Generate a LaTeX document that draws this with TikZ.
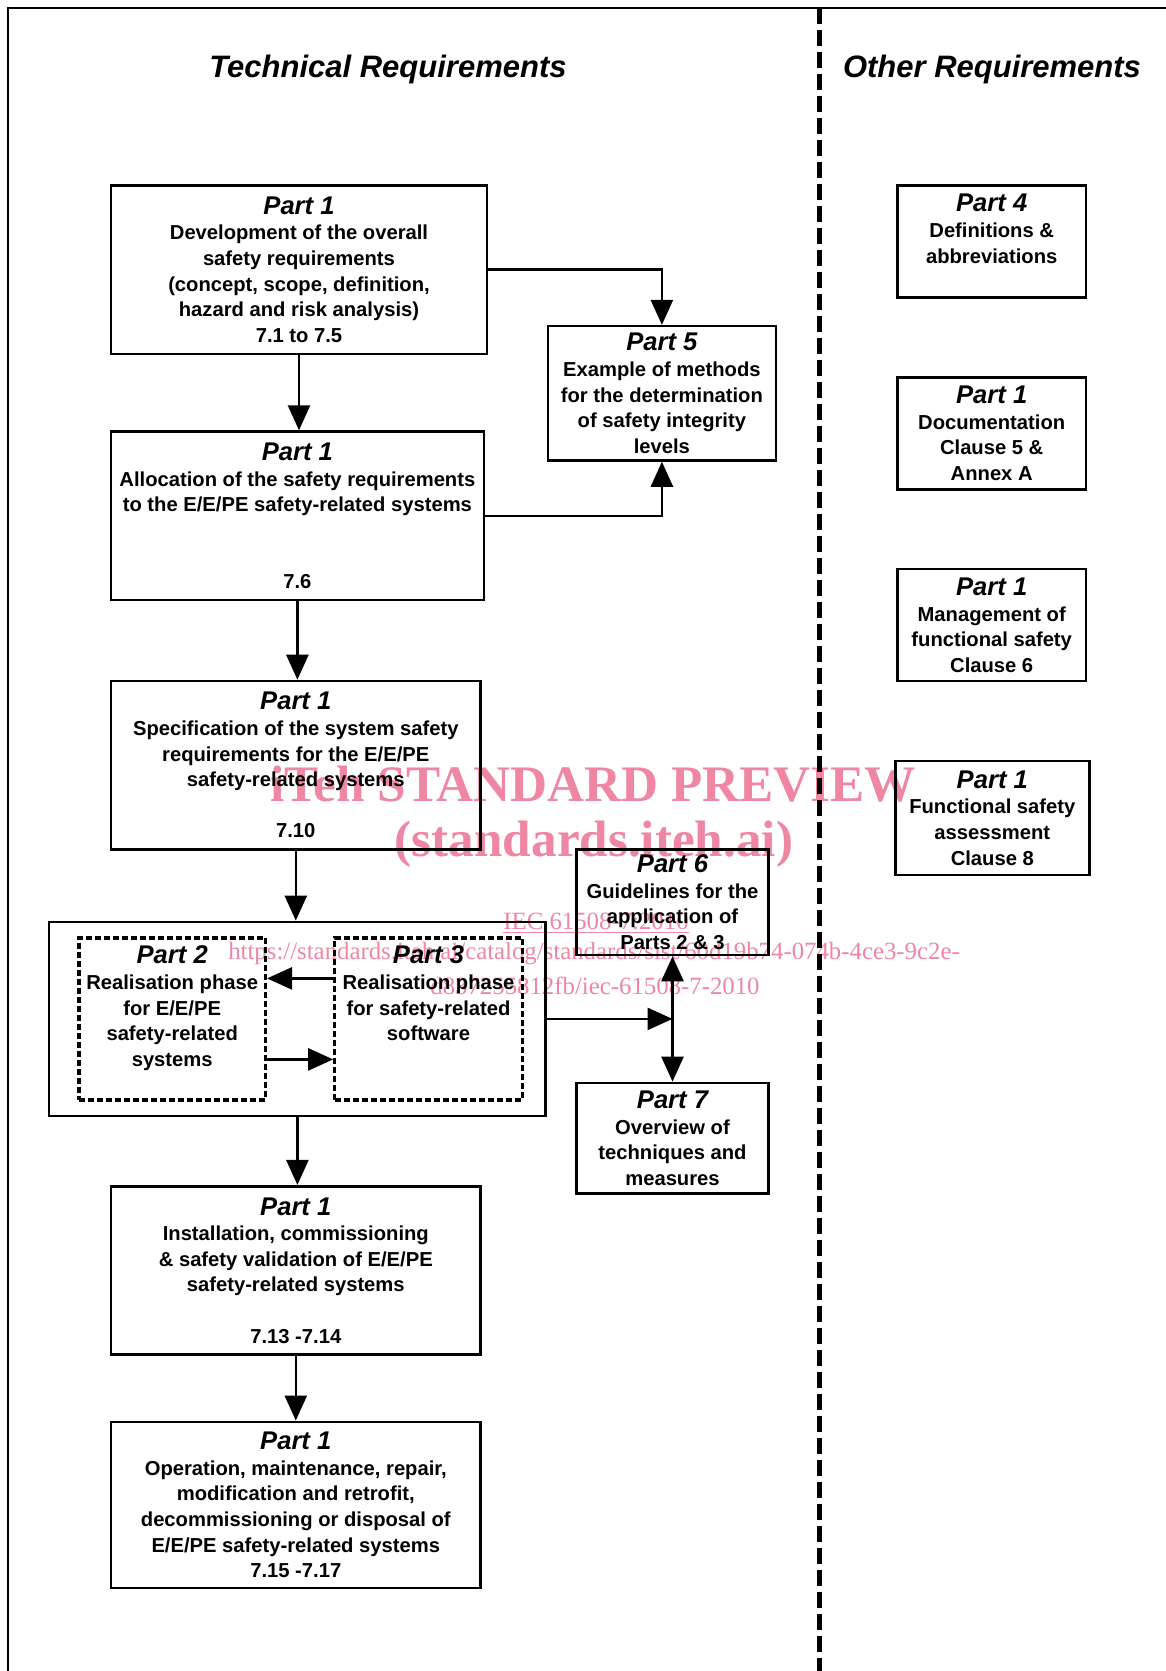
\documentclass[tikz,border=0pt]{standalone}
\usepackage{fontspec}
\setmainfont{Liberation Sans}
\newfontfamily\wmfont{Liberation Serif}
\usetikzlibrary{arrows.meta}
\definecolor{wmpink}{RGB}{238,134,164}
\newcommand{\bodyfont}{\fontsize{10.1}{12.8}\selectfont\bfseries}
\newcommand{\partfont}{\fontsize{12.8}{12.8}\selectfont\bfseries\itshape}

\begin{document}
\begin{tikzpicture}[x=0.5pt, y=-0.5pt, >={Triangle[length=12.5pt,width=11pt]},
    partbox/.style={rectangle, draw, line width=1.3pt, align=center, font=\bodyfont, inner sep=0pt},
    subbox/.style={rectangle, draw, line width=1.6pt, dash pattern=on 3pt off 1.5pt, align=center, font=\bodyfont, inner sep=0pt},
    boxsize/.style 2 args={minimum width=#1*0.5pt, minimum height=#2*0.5pt},
    flow/.style={line width=1.3pt},
    heading/.style={font=\fontsize{15.5}{15.5}\selectfont\bfseries\itshape},
    wmbig/.style={text=wmpink, font=\wmfont\fontsize{25.6}{25.6}\selectfont\bfseries},
    wmsmall/.style={text=wmpink, font=\wmfont\fontsize{12.4}{12.4}\selectfont}]
    \useasboundingbox (0,0) rectangle (1166,1671);

    % watermark
    \node[wmbig] (wm_preview) at (593,784) {iTeh STANDARD PREVIEW};
    \node[wmbig] (wm_site) at (594,844) {(standards.iteh.ai)};
    \node[wmsmall] (wm_doc) at (596,923) {\underline{IEC 61508-7:2010}};
    \node[wmsmall] (wm_url) at (594,954) {https://standards.iteh.ai/catalog/standards/sist/60d19b74-074b-4ce3-9c2e-};
    \node[wmsmall] (wm_url2) at (595,986) {d837255812fb/iec-61508-7-2010};

    % frame and divider
    \draw[line width=1pt] (7.5,1671) -- (7.5,7.5) -- (1166,7.5);
    \draw[line width=2.2pt, dash pattern=on 8pt off 3pt] (819.6,7.5) -- (819.6,1671);

    \node[heading] (tech_title) at (388,69) {Technical Requirements};
    \node[heading] (other_title) at (992,69) {Other Requirements};

    % technical requirements
    \node[partbox, boxsize={376.3}{168.4}] (dev) at (299,269.6) {{\partfont Part 1}\\Development of the overall\\safety requirements\\(concept, scope, definition,\\hazard and risk analysis)\\7.1 to 7.5};
    \node[partbox, boxsize={373.1}{168.4}] (alloc) at (297.4,515.8) {{\partfont Part 1}\\Allocation of the safety requirements\\to the E/E/PE safety-related systems\\[25.6pt]7.6};
    \node[partbox, boxsize={228.1}{134.3}] (sil) at (661.9,393.3) {{\partfont Part 5}\\Example of methods\\for the determination\\of safety integrity\\levels};
    \node[partbox, boxsize={369.9}{168.4}] (spec) at (295.8,765.2) {{\partfont Part 1}\\Specification of the system safety\\requirements for the E/E/PE\\safety-related systems\\[12.8pt]7.10};
    \node[partbox, boxsize={496.7}{194}] (real) at (297.4,1018.9) {};
    \node[subbox, boxsize={186.5}{162}] (hw) at (172.2,1018.9) {{\partfont Part 2}\\Realisation phase\\for E/E/PE\\safety-related\\systems\\\mbox{}};
    \node[subbox, boxsize={187.5}{162}] (sw) at (428.5,1018.9) {{\partfont Part 3}\\Realisation phase\\for safety-related\\software\\\mbox{}\\\mbox{}};
    \node[partbox, boxsize={191.8}{105.6}] (guide) at (672.5,902.2) {{\partfont Part 6}\\Guidelines for the\\application of\\Parts 2 \& 3};
    \node[partbox, boxsize={191.8}{110.8}] (techniques) at (672.5,1138.3) {{\partfont Part 7}\\Overview of\\techniques and\\measures};
    \node[partbox, boxsize={369.9}{168.4}] (install) at (295.8,1270.4) {{\partfont Part 1}\\Installation, commissioning\\\& safety validation of E/E/PE\\safety-related systems\\[12.8pt]7.13 -7.14};
    \node[partbox, boxsize={369.9}{166.2}] (operate) at (295.8,1504.9) {{\partfont Part 1}\\Operation, maintenance, repair,\\modification and retrofit,\\decommissioning or disposal of\\E/E/PE safety-related systems\\7.15 -7.17};

    % other requirements
    \node[partbox, boxsize={188.6}{112}] (defs) at (991.7,241.4) {{\partfont Part 4}\\Definitions \&\\abbreviations\\\mbox{}};
    \node[partbox, boxsize={188.6}{111.9}] (docu) at (991.7,433.3) {{\partfont Part 1}\\Documentation\\Clause 5 \&\\Annex A};
    \node[partbox, boxsize={188.6}{111.9}] (manage) at (991.7,625.1) {{\partfont Part 1}\\Management of\\functional safety\\Clause 6};
    \node[partbox, boxsize={193.9}{114}] (assess) at (992.3,818) {{\partfont Part 1}\\Functional safety\\assessment\\Clause 8};

    \draw[flow,->] (dev.south) -- (dev.south |- alloc.north);
    \draw[flow,->] (alloc.south) -- (alloc.south |- spec.north);
    \draw[flow,->] (spec.south) -- (spec.south |- real.north);
    \draw[flow,->] (real.south) -- (real.south |- install.north);
    \draw[flow,->] (install.south) -- (operate.north);
    \draw[flow,->] (dev.east) -| (sil.north);
    \draw[flow,->] (alloc.east) -| (sil.south);
    \draw[flow,->] ([yshift=20.25pt]sw.west) -- ([yshift=20.25pt]hw.east);
    \draw[flow,->] ([yshift=-20.25pt]hw.east) -- ([yshift=-20.25pt]sw.west);
    \draw[flow,->] (real.east) -- (real.east -| guide.south);
    \draw[flow,<->] (guide.south) -- (techniques.north);

\end{tikzpicture}
\end{document}
